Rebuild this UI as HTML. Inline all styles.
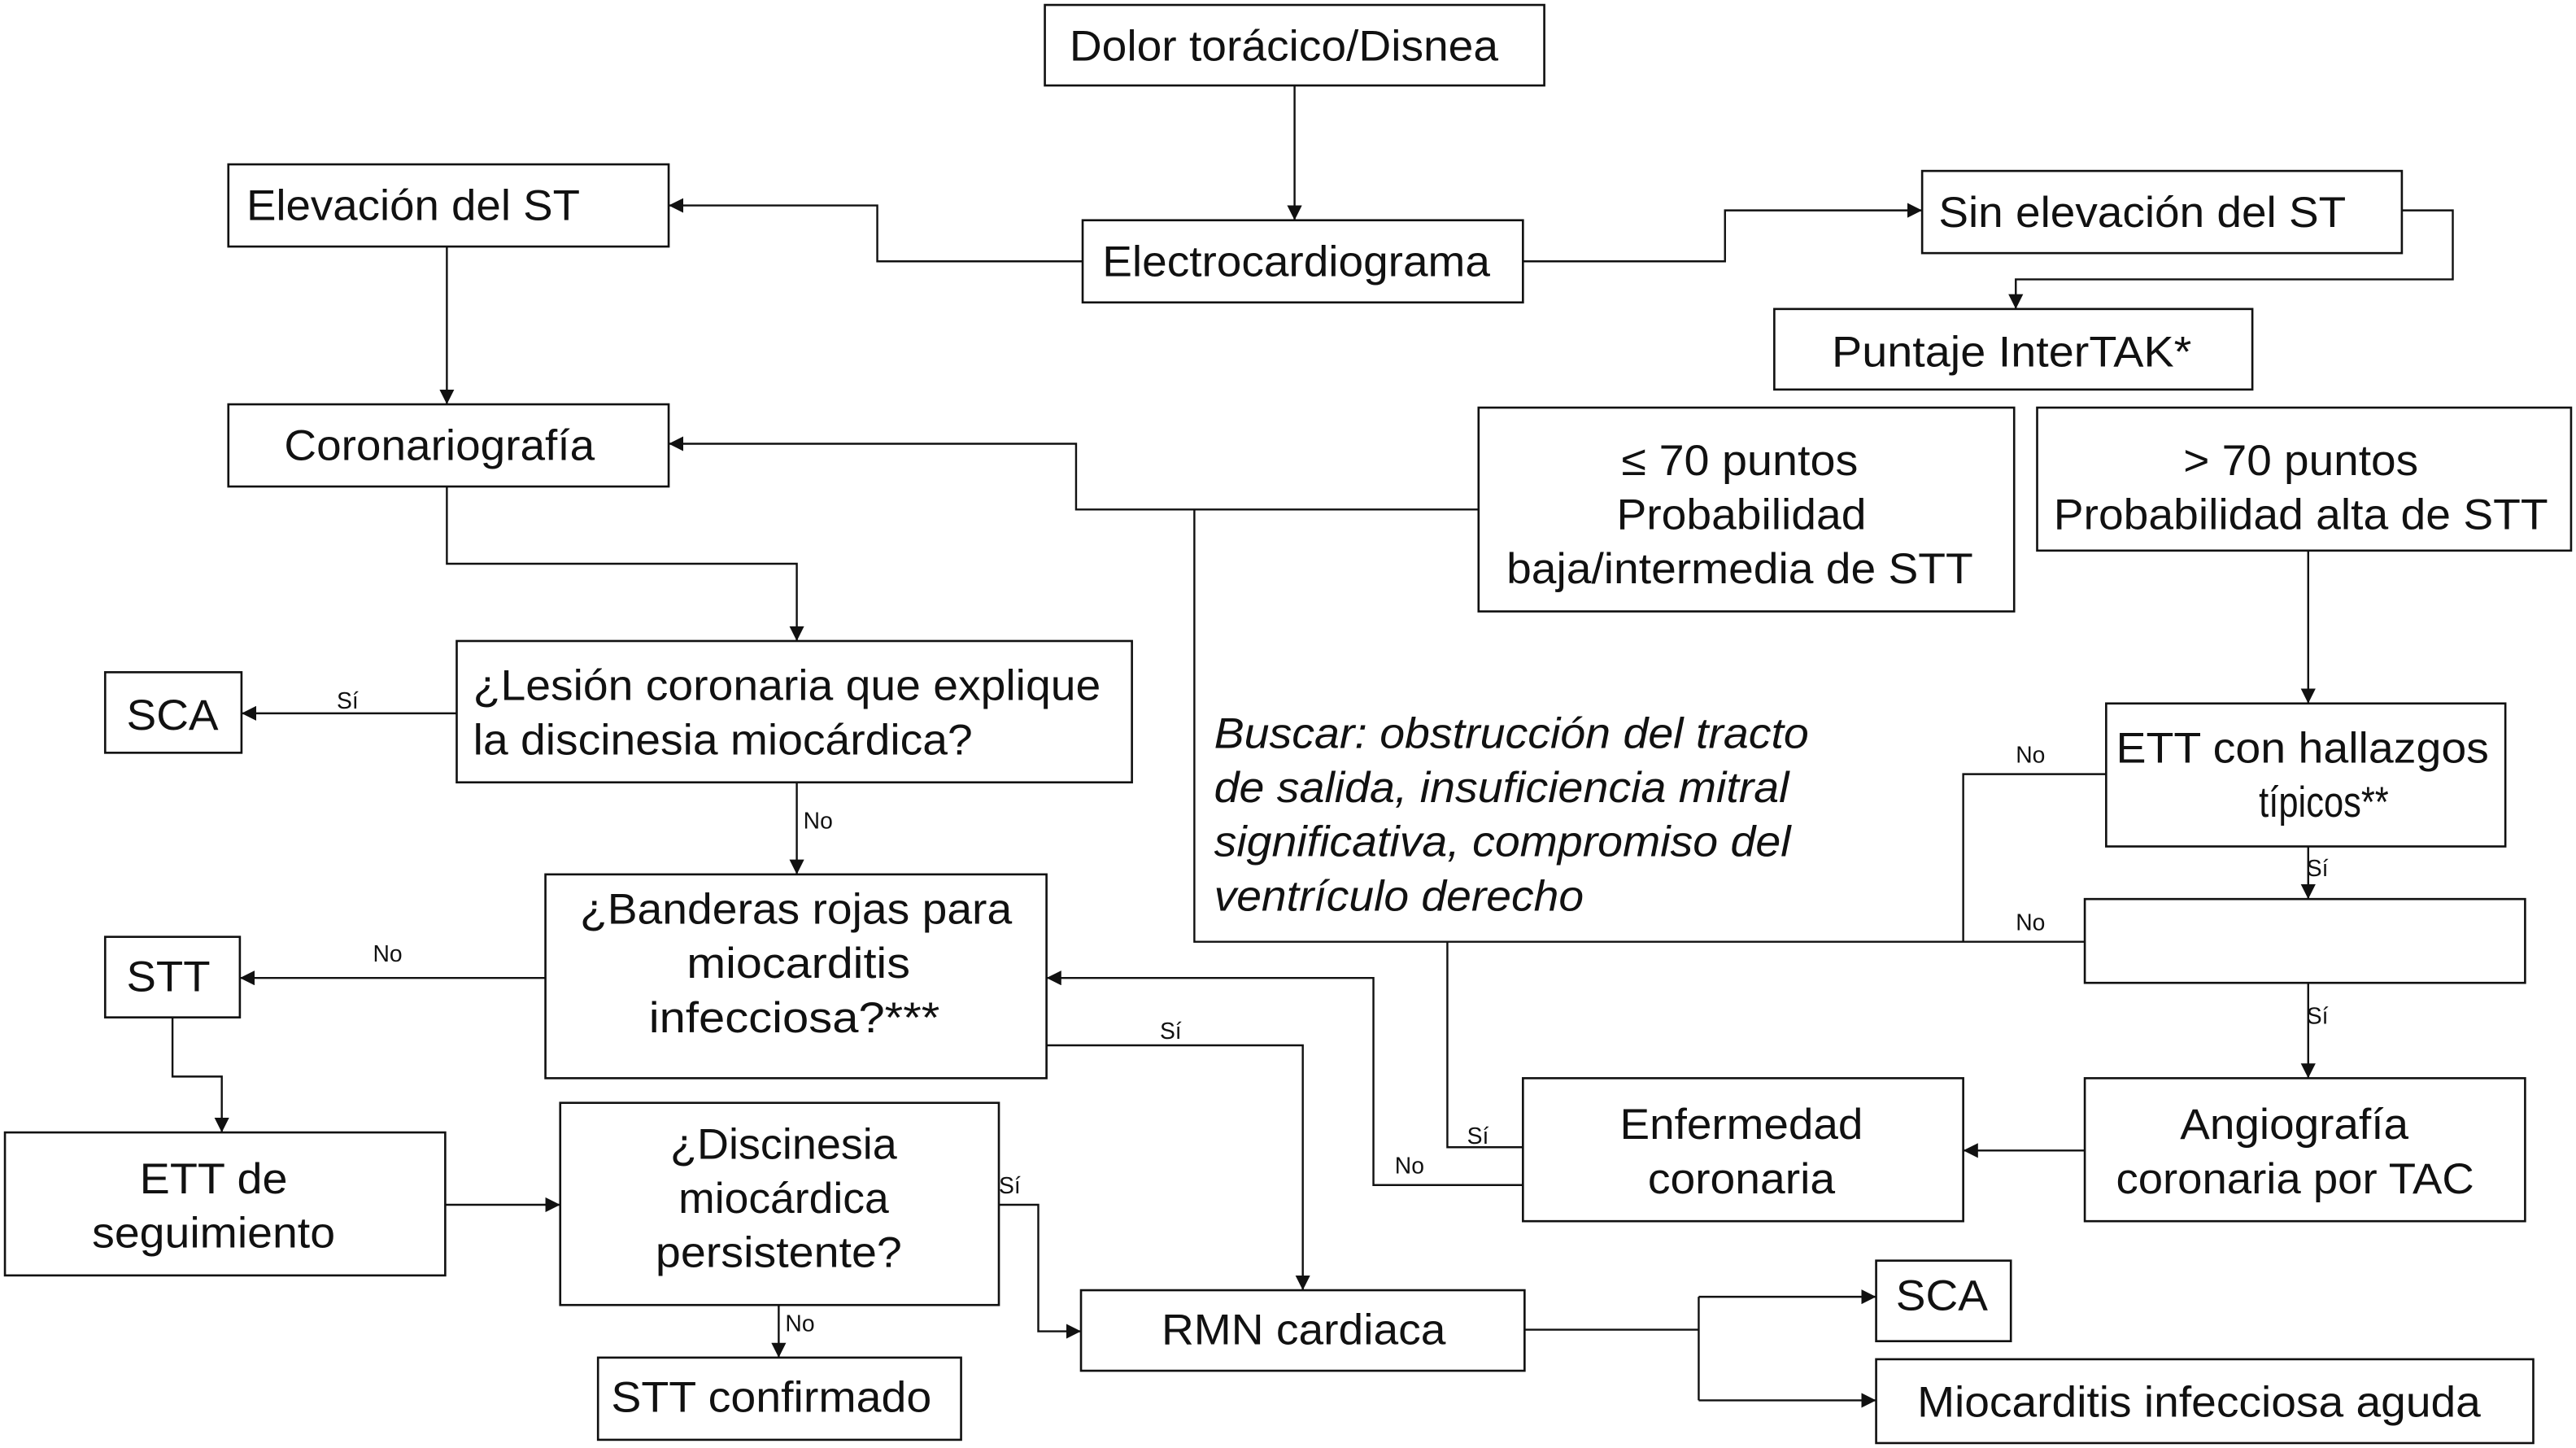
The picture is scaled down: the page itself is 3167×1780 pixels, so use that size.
<!DOCTYPE html>
<html><head><meta charset="utf-8"><style>
html,body{margin:0;padding:0;background:#fff;}
svg{display:block;}
text{font-family:"Liberation Sans",Arial,sans-serif;fill:#111;}
.t{font-size:26px;}
.s{font-size:14px;}
.i{font-size:26px;font-style:italic;}
rect{fill:#fff;stroke:#111;stroke-width:1.3;}
path,line{fill:none;stroke:#111;stroke-width:1.2;}
</style></head><body>
<svg width="3167" height="1780" viewBox="0 0 1568 881" preserveAspectRatio="none" xmlns="http://www.w3.org/2000/svg">
<defs><marker id="a" viewBox="0 0 10 10" refX="10" refY="5" markerWidth="9" markerHeight="9" markerUnits="userSpaceOnUse" orient="auto"><path d="M0,0L10,5L0,10z" style="fill:#111;stroke:none"/></marker></defs>

<!-- connectors -->
<path d="M788,52V134" marker-end="url(#a)"/>
<path d="M659,159H534V125H407" marker-end="url(#a)"/>
<path d="M927,159H1050V128H1170" marker-end="url(#a)"/>
<path d="M1462,128H1493V170H1227V188" marker-end="url(#a)"/>
<path d="M272,150V246" marker-end="url(#a)"/>
<path d="M900,310H655V270H407" marker-end="url(#a)"/>
<path d="M272,296V343H485V390" marker-end="url(#a)"/>
<path d="M278,434H147" marker-end="url(#a)"/>
<path d="M485,476V532" marker-end="url(#a)"/>
<path d="M332,595H146" marker-end="url(#a)"/>
<path d="M637,636H793V785" marker-end="url(#a)"/>
<path d="M927,721H836V595H637" marker-end="url(#a)"/>
<path d="M927,698H881V573"/>
<path d="M727,310V573H1269"/>
<path d="M1282,471H1195V573"/>
<path d="M1405,335V428" marker-end="url(#a)"/>
<path d="M1405,515V547" marker-end="url(#a)"/>
<path d="M1405,598V656" marker-end="url(#a)"/>
<path d="M1269,700H1195" marker-end="url(#a)"/>
<path d="M105,619V655H135V689" marker-end="url(#a)"/>
<path d="M271,733H341" marker-end="url(#a)"/>
<path d="M608,733H632V810H658" marker-end="url(#a)"/>
<path d="M474,794V826" marker-end="url(#a)"/>
<path d="M928,809H1034"/>
<path d="M1034,789V852"/>
<path d="M1034,789H1142" marker-end="url(#a)"/>
<path d="M1034,852H1142" marker-end="url(#a)"/>

<!-- boxes -->
<rect x="636" y="3" width="304" height="49"/>
<rect x="139" y="100" width="268" height="50"/>
<rect x="659" y="134" width="268" height="50"/>
<rect x="1170" y="104" width="292" height="50"/>
<rect x="1080" y="188" width="291" height="49"/>
<rect x="139" y="246" width="268" height="50"/>
<rect x="900" y="248" width="326" height="124"/>
<rect x="1240" y="248" width="325" height="87"/>
<rect x="278" y="390" width="411" height="86"/>
<rect x="64" y="409" width="83" height="49"/>
<rect x="332" y="532" width="305" height="124"/>
<rect x="64" y="570" width="82" height="49"/>
<rect x="3" y="689" width="268" height="87"/>
<rect x="341" y="671" width="267" height="123"/>
<rect x="364" y="826" width="221" height="50"/>
<rect x="658" y="785" width="270" height="49"/>
<rect x="1282" y="428" width="243" height="87"/>
<rect x="1269" y="547" width="268" height="51"/>
<rect x="927" y="656" width="268" height="87"/>
<rect x="1269" y="656" width="268" height="87"/>
<rect x="1142" y="767" width="82" height="49"/>
<rect x="1142" y="827" width="400" height="51"/>

<!-- text -->
<text class="t" x="651" y="37" textLength="261" lengthAdjust="spacingAndGlyphs">Dolor torácico/Disnea</text>
<text class="t" x="150" y="134" textLength="203" lengthAdjust="spacingAndGlyphs">Elevación del ST</text>
<text class="t" x="671" y="168" textLength="236" lengthAdjust="spacingAndGlyphs">Electrocardiograma</text>
<text class="t" x="1180" y="138" textLength="248" lengthAdjust="spacingAndGlyphs">Sin elevación del ST</text>
<text class="t" x="1115" y="223" textLength="219" lengthAdjust="spacingAndGlyphs">Puntaje InterTAK*</text>
<text class="t" x="173" y="280" textLength="189" lengthAdjust="spacingAndGlyphs">Coronariografía</text>
<text class="t" x="987" y="289" textLength="144" lengthAdjust="spacingAndGlyphs">≤ 70 puntos</text>
<text class="t" x="984" y="322" textLength="152" lengthAdjust="spacingAndGlyphs">Probabilidad</text>
<text class="t" x="917" y="355" textLength="284" lengthAdjust="spacingAndGlyphs">baja/intermedia de STT</text>
<text class="t" x="1329" y="289" textLength="143" lengthAdjust="spacingAndGlyphs">&gt; 70 puntos</text>
<text class="t" x="1250" y="322" textLength="301" lengthAdjust="spacingAndGlyphs">Probabilidad alta de STT</text>
<text class="t" x="288" y="426" textLength="382" lengthAdjust="spacingAndGlyphs">¿Lesión coronaria que explique</text>
<text class="t" x="288" y="459" textLength="304" lengthAdjust="spacingAndGlyphs">la discinesia miocárdica?</text>
<text class="t" x="77" y="444" textLength="56" lengthAdjust="spacingAndGlyphs">SCA</text>
<text class="t" x="353" y="562" textLength="263" lengthAdjust="spacingAndGlyphs">¿Banderas rojas para</text>
<text class="t" x="418" y="595" textLength="136" lengthAdjust="spacingAndGlyphs">miocarditis</text>
<text class="t" x="395" y="628" textLength="177" lengthAdjust="spacingAndGlyphs">infecciosa?***</text>
<text class="t" x="77" y="603" textLength="51" lengthAdjust="spacingAndGlyphs">STT</text>
<text class="t" x="85" y="726" textLength="90" lengthAdjust="spacingAndGlyphs">ETT de</text>
<text class="t" x="56" y="759" textLength="148" lengthAdjust="spacingAndGlyphs">seguimiento</text>
<text class="t" x="408" y="705" textLength="138" lengthAdjust="spacingAndGlyphs">¿Discinesia</text>
<text class="t" x="413" y="738" textLength="128" lengthAdjust="spacingAndGlyphs">miocárdica</text>
<text class="t" x="399" y="771" textLength="150" lengthAdjust="spacingAndGlyphs">persistente?</text>
<text class="t" x="372" y="859" textLength="195" lengthAdjust="spacingAndGlyphs">STT confirmado</text>
<text class="t" x="707" y="818" textLength="173" lengthAdjust="spacingAndGlyphs">RMN cardiaca</text>
<text class="t" x="1288" y="464" textLength="227" lengthAdjust="spacingAndGlyphs">ETT con hallazgos</text>
<text class="t" x="1375" y="497" textLength="79" lengthAdjust="spacingAndGlyphs">típicos**</text>
<text class="t" x="986" y="693" textLength="148" lengthAdjust="spacingAndGlyphs">Enfermedad</text>
<text class="t" x="1003" y="726" textLength="114" lengthAdjust="spacingAndGlyphs">coronaria</text>
<text class="t" x="1327" y="693" textLength="139" lengthAdjust="spacingAndGlyphs">Angiografía</text>
<text class="t" x="1288" y="726" textLength="218" lengthAdjust="spacingAndGlyphs">coronaria por TAC</text>
<text class="t" x="1154" y="797" textLength="56" lengthAdjust="spacingAndGlyphs">SCA</text>
<text class="t" x="1167" y="862" textLength="343" lengthAdjust="spacingAndGlyphs">Miocarditis infecciosa aguda</text>
<text class="i" x="739" y="455" textLength="362" lengthAdjust="spacingAndGlyphs">Buscar: obstrucción del tracto</text>
<text class="i" x="739" y="488" textLength="350" lengthAdjust="spacingAndGlyphs">de salida, insuficiencia mitral</text>
<text class="i" x="739" y="521" textLength="351" lengthAdjust="spacingAndGlyphs">significativa, compromiso del</text>
<text class="i" x="739" y="554" textLength="225" lengthAdjust="spacingAndGlyphs">ventrículo derecho</text>

<!-- small labels -->
<text class="s" x="205" y="431">Sí</text>
<text class="s" x="489" y="504">No</text>
<text class="s" x="227" y="585">No</text>
<text class="s" x="706" y="632">Sí</text>
<text class="s" x="608" y="726">Sí</text>
<text class="s" x="478" y="810">No</text>
<text class="s" x="893" y="696">Sí</text>
<text class="s" x="849" y="714">No</text>
<text class="s" x="1227" y="464">No</text>
<text class="s" x="1227" y="566">No</text>
<text class="s" x="1404" y="533">Sí</text>
<text class="s" x="1404" y="623">Sí</text>
</svg>
</body></html>
